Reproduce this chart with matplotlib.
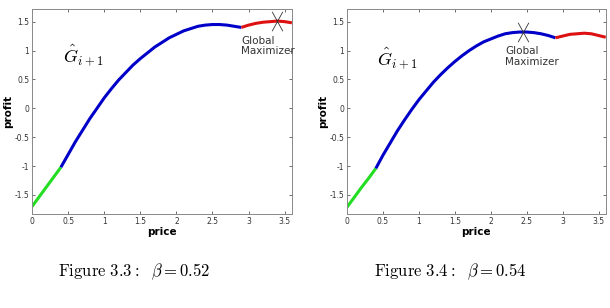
import matplotlib.pyplot as plt
from matplotlib.path import Path as MPath

# shared green segment
green_x = [0.0, 0.1, 0.2, 0.3, 0.4]
green_33 = [-1.70, -1.53, -1.36, -1.19, -1.02]
green_34 = [-1.71, -1.54, -1.37, -1.21, -1.04]

blue_x = [0.4, 0.5, 0.6, 0.7, 0.8, 0.9, 1.0, 1.1, 1.2, 1.3, 1.4, 1.5, 1.6,
          1.7, 1.8, 1.9, 2.0, 2.1, 2.2, 2.3, 2.4, 2.5, 2.6, 2.7, 2.8, 2.9]
blue_33 = [-1.02, -0.80, -0.58, -0.38, -0.18, 0.00, 0.18, 0.34, 0.49, 0.62,
           0.75, 0.86, 0.96, 1.06, 1.14, 1.22, 1.28, 1.34, 1.38, 1.42, 1.44,
           1.45, 1.45, 1.44, 1.42, 1.40]
blue_34 = [-1.04, -0.81, -0.60, -0.39, -0.20, -0.02, 0.15, 0.30, 0.45, 0.58,
           0.70, 0.81, 0.91, 1.00, 1.08, 1.15, 1.20, 1.25, 1.29, 1.31, 1.32,
           1.32, 1.31, 1.29, 1.26, 1.22]

red_x = [2.9, 3.0, 3.1, 3.2, 3.3, 3.4, 3.5, 3.6]
red_33 = [1.40, 1.44, 1.47, 1.49, 1.50, 1.51, 1.50, 1.48]
red_34 = [1.22, 1.25, 1.28, 1.29, 1.30, 1.29, 1.26, 1.23]

max_33 = (3.4, 1.51)
max_34 = (2.45, 1.32)

captions = [r"$\mathrm{Figure\ 3.3{:}}\ \ \beta = 0.52$",
            r"$\mathrm{Figure\ 3.4{:}}\ \ \beta = 0.54$"]

xticks = [0, 0.5, 1, 1.5, 2, 2.5, 3, 3.5]
yticks = [-1.5, -1, -0.5, 0, 0.5, 1, 1.5]

plt.rcParams["mathtext.fontset"] = "cm"

tall_x = MPath([(-0.55, -1), (0.55, 1), (-0.55, 1), (0.55, -1)],
               [MPath.MOVETO, MPath.LINETO, MPath.MOVETO, MPath.LINETO])


def draw_panel(ax, gy, by, ry, maxpt, text_xy, g_xy):
    ax.plot(green_x, gy, color="#22dd22", lw=2.2, solid_capstyle="butt")
    ax.plot(blue_x, by, color="#0000c8", lw=2.2, solid_capstyle="butt")
    ax.plot(red_x, ry, color="#dd1111", lw=2.2, solid_capstyle="butt")
    ax.plot([maxpt[0]], [maxpt[1]], marker=tall_x, ms=14, mew=0.6,
            color="#333333", linestyle="none")
    ax.text(text_xy[0], text_xy[1], "Global\nMaximizer", fontsize=7.5,
            color="#333333", va="top", ha="left", linespacing=1.1)
    ax.text(g_xy[0], g_xy[1], r"$\hat{G}_{i+1}$", fontsize=13,
            va="baseline", ha="left")

    ax.set_xlim(0, 3.6)
    ax.set_ylim(-1.83, 1.72)
    ax.set_xticks(xticks)
    ax.set_xticklabels(["0", "0.5", "1", "1.5", "2", "2.5", "3", "3.5"])
    ax.set_yticks(yticks)
    ax.set_yticklabels(["-1.5", "-1", "-0.5", "0", "0.5", "1", "1.5"])
    ax.tick_params(direction="in", length=2.5, width=0.6, top=True,
                   right=True, labelsize=5.5, colors="#555555",
                   labelcolor="#333333", pad=2)
    for s in ax.spines.values():
        s.set_color("#888888")
        s.set_linewidth(0.7)
    ax.set_xlabel("price", fontsize=7.5, fontweight="bold", labelpad=1)
    ax.set_ylabel("profit", fontsize=7.5, fontweight="bold", labelpad=1)


fig = plt.figure(figsize=(6.1, 3.08), dpi=100)
ax1 = fig.add_axes([0.0525, 0.305, 0.426, 0.666])
ax2 = fig.add_axes([0.569, 0.305, 0.424, 0.666])

draw_panel(ax1, green_33, blue_33, red_33, max_33, (2.9, 1.26), (0.43, 0.80))
draw_panel(ax2, green_34, blue_34, red_34, max_34, (2.2, 1.07), (0.42, 0.75))

fig.text(0.22, 0.117, captions[0], fontsize=12, ha="center", va="center")
fig.text(0.739, 0.117, captions[1], fontsize=12, ha="center", va="center")

fig.savefig("out.png", dpi=100)
